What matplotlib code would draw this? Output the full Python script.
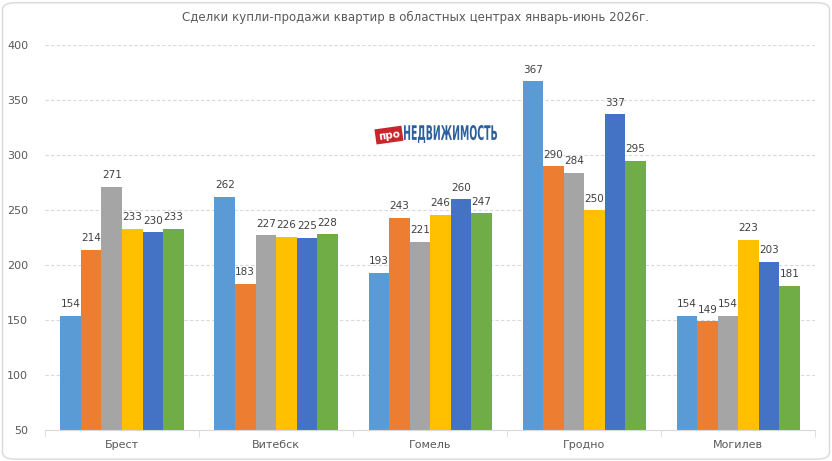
import numpy as np
import matplotlib
matplotlib.use('Agg')
import matplotlib.pyplot as plt
from matplotlib.patches import FancyBboxPatch, PathPatch
from matplotlib.textpath import TextPath
from matplotlib.font_manager import FontProperties
from matplotlib.transforms import Affine2D

cities = ['Брест', 'Витебск', 'Гомель', 'Гродно', 'Могилев']
s1 = [154, 262, 193, 367, 154]
s2 = [214, 183, 243, 290, 149]
s3 = [271, 227, 221, 284, 154]
s4 = [233, 226, 246, 250, 223]
s5 = [230, 225, 260, 337, 203]
s6 = [233, 228, 247, 295, 181]
series = [s1, s2, s3, s4, s5, s6]
colors = ['#5B9BD5', '#ED7D31', '#A5A5A5', '#FFC000', '#4472C4', '#70AD47']

plt.rcParams['font.family'] = ['DejaVu Sans']
txt = '#595959'

fig = plt.figure(figsize=(8.32, 4.61), dpi=100)
ax = fig.add_axes([0.054, 0.067, 0.926, 0.835])

x = np.arange(len(cities))
w = 0.8 / 6
for i, (vals, c) in enumerate(zip(series, colors)):
    pos = x - 0.4 + w * (i + 0.5)
    ax.bar(pos, np.array(vals) - 50, bottom=50, width=w, color=c, zorder=2)
    for p, v in zip(pos, vals):
        ax.text(p, v + 6, str(v), ha='center', va='bottom', fontsize=7.5, color='#404040')

ax.set_xlim(-0.5, len(cities) - 0.5)
ax.set_ylim(50, 400)
ax.set_yticks(range(50, 401, 50))
ax.yaxis.grid(True, linestyle=(0, (3, 2)), color='#D9D9D9', linewidth=0.8, zorder=0)
ax.set_axisbelow(True)
for s in ['top', 'right', 'left']:
    ax.spines[s].set_visible(False)
ax.spines['bottom'].set_color('#D9D9D9')
ax.set_xticks(x)
ax.set_xticklabels(cities)
ax.set_xticks(np.arange(-0.5, len(cities)), minor=True)
ax.tick_params(axis='x', which='major', length=0, pad=7, labelsize=8, labelcolor=txt)
ax.tick_params(axis='x', which='minor', length=5, color='#D9D9D9')
ax.tick_params(axis='y', length=0, labelsize=8, labelcolor=txt, pad=12)

fig.text(0.5, 0.962, 'Сделки купли-продажи квартир в областных центрах январь-июнь 2026г.',
         ha='center', va='center', fontsize=8.5, color=txt)

# logo: red tag + condensed blue word
fig.text(0.4675, 0.707, 'про', ha='center', va='center', fontsize=7.5, color='white',
         fontweight='bold', rotation=8,
         bbox=dict(boxstyle='square,pad=0.25', fc='#C9252C', ec='none'))
tp = TextPath((0, 0), 'НЕДВИЖИМОСТЬ', size=1, prop=FontProperties(family='DejaVu Sans', weight='bold'))
ext = tp.get_extents()
x0, x1, y0, y1 = 404, 497, 461 - 143, 461 - 125
tr = (Affine2D().translate(-ext.x0, -ext.y0)
      .scale((x1 - x0) / ext.width, (y1 - y0) / ext.height)
      .translate(x0, y0).scale(1 / 832, 1 / 461) + fig.transFigure)
fig.patches.append(PathPatch(tp, transform=tr, fc='#2B5F9E', ec='none'))

border = FancyBboxPatch((0.003, 0.004), 0.994, 0.99, boxstyle='round,pad=0,rounding_size=0.015',
                        transform=fig.transFigure, fc='none', ec='#D9D9D9', lw=1)
fig.patches.append(border)

fig.savefig('out.png', dpi=100)
